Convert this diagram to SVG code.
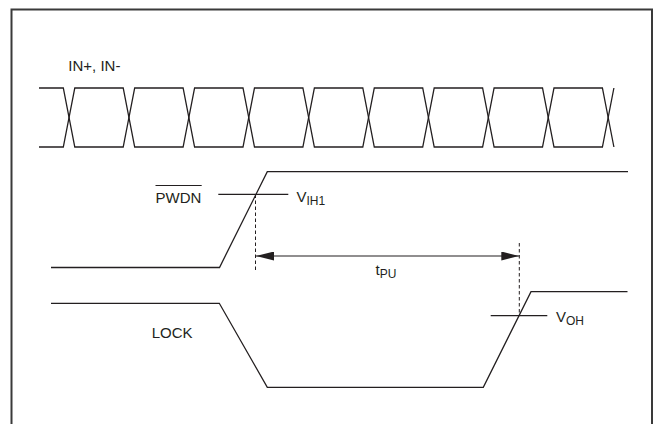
<svg xmlns="http://www.w3.org/2000/svg" width="656" height="424" viewBox="0 0 656 424">
<style>
.frame{fill:none;stroke:#3a3a3a;stroke-width:2}
.wave{fill:none;stroke:#231f20;stroke-width:1.3;stroke-linejoin:miter}
.thr{fill:none;stroke:#231f20;stroke-width:1.2}
.dash{fill:none;stroke:#231f20;stroke-width:1;stroke-dasharray:3.5 2.5}
.lbl{font-family:"Liberation Sans",Arial,sans-serif;font-size:15px;fill:#231f20}
.sub{font-size:12px}
</style>
<defs>
<marker id="ah" viewBox="0 0 18 9" refX="18" refY="4.5" markerWidth="18" markerHeight="9" markerUnits="userSpaceOnUse" orient="auto-start-reverse">
<path d="M0,0 L18,4.5 L0,9 Z" fill="#231f20"/>
</marker>
</defs>
<rect width="656" height="424" fill="#ffffff"/>
<path class="frame" d="M11.5,424 V9.5 H652 V424"/>

<g id="in-signal">
<text class="lbl" x="68.3" y="70.5">IN+, IN-</text>
<path class="wave" d="M39,88 H63.3 L74.8,147 H123.2 L134.7,88 H183.1 L194.6,147 H243 L254.5,88 H302.9 L314.4,147 H362.8 L374.3,88 H422.7 L434.2,147 H482.6 L494.1,88 H542.5 L554,147 H602.4 L613.9,88"/>
<path class="wave" d="M39,147 H63.3 L74.8,88 H123.2 L134.7,147 H183.1 L194.6,88 H243 L254.5,147 H302.9 L314.4,88 H362.8 L374.3,147 H422.7 L434.2,88 H482.6 L494.1,147 H542.5 L554,88 H602.4 L613.9,147"/>
</g>

<g id="pwdn-signal">
<text class="lbl" x="155.5" y="203.3">PWDN</text>
<line x1="155.5" y1="185.5" x2="201.7" y2="185.5" stroke="#231f20" stroke-width="1"/>
<path class="wave" d="M51,267.5 H219.5 L267.3,171.7 H628"/>
<path class="thr" d="M218.3,194.3 H288.3"/>
<text class="lbl" x="296.5" y="202">V<tspan class="sub" dy="3">IH1</tspan></text>
</g>

<g id="lock-signal">
<text class="lbl" x="151.7" y="338.3">LOCK</text>
<path class="wave" d="M51,303.3 H219.3 L267.3,387.3 H483.3 L531,291.7 H627.5"/>
<path class="thr" d="M490.7,315.7 H547.3"/>
<text class="lbl" x="556" y="321.5">V<tspan class="sub" dy="3.5">OH</tspan></text>
</g>

<g id="connectors">
<path class="dash" d="M255.5,194.5 V271"/>
<path class="dash" d="M519.3,243 V316"/>
<path class="thr" d="M256,256 H519.3" marker-start="url(#ah)" marker-end="url(#ah)"/>
<text class="lbl" x="375.5" y="274.5">t<tspan class="sub" dy="3">PU</tspan></text>
</g>
</svg>
